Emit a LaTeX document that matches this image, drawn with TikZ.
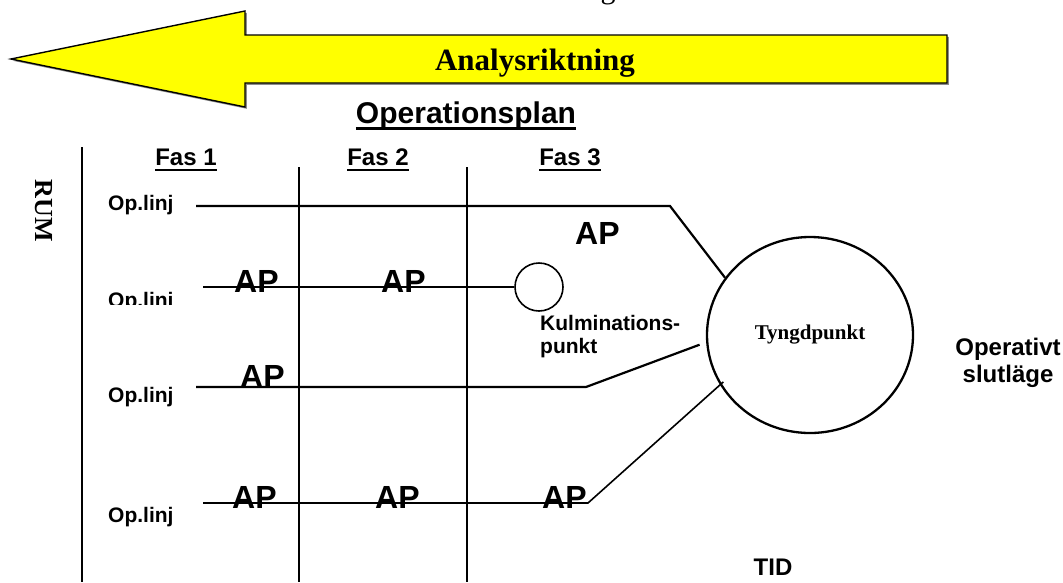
\documentclass[tikz,border=0pt]{standalone}
\usepackage{fontspec}
\setmainfont{Liberation Serif}
\setsansfont{Liberation Sans}
\usetikzlibrary{positioning, calc, shapes.geometric}
\definecolor{arrowyellow}{RGB}{255,255,0}
\definecolor{shadowgray}{RGB}{140,140,140}

\begin{document}
\begin{tikzpicture}[
  x=1pt, y=-1pt,
  axis/.style={line width=2.4pt},
  opline/.style={line width=2.2pt},
  thinline/.style={line width=1.6pt},
  uline/.style={line width=2.6pt},
  heading/.style={font=\sffamily\bfseries\fontsize{24}{28}\selectfont, inner sep=0pt, anchor=base},
  oplbl/.style={font=\sffamily\bfseries\fontsize{21}{24}\selectfont, inner sep=0pt, anchor=base west},
  aplbl/.style={font=\sffamily\bfseries\fontsize{32}{36}\selectfont, inner sep=0pt, anchor=base west},
  seriflbl/.style={font=\bfseries\fontsize{31}{36}\selectfont, inner sep=0pt, anchor=base}
]
\useasboundingbox (0,0) rectangle (1063,582);

% ---- direction arrow ----
\fill[shadowgray, shift={(1.8,1.8)}] (11,59) -- (245,11) -- (245,35) -- (947,35) -- (947,83) -- (245,83) -- (245,107) -- cycle;
\filldraw[fill=arrowyellow, draw=black, line width=1.4pt] (11,59) -- (245,11) -- (245,35) -- (947,35) -- (947,83) -- (245,83) -- (245,107) -- cycle;
\node[seriflbl] (analys) at (535,70) {Analysriktning};
\node[font=\fontsize{30}{34}\selectfont, inner sep=0pt, anchor=base] (topg) at (608,-2) {g};

% ---- titles ----
\node[heading, font=\sffamily\bfseries\fontsize{30}{34}\selectfont] (plan) at (466,123) {Operationsplan};
\draw[uline, line width=3pt] ([yshift=-5pt]plan.base west) -- ([yshift=-5pt]plan.base east);
\node[heading] (fas1) at (186,165) {Fas 1};
\node[heading] (fas2) at (378,165) {Fas 2};
\node[heading] (fas3) at (570,165) {Fas 3};
\foreach \f in {fas1,fas2,fas3}
  \draw[uline] ([yshift=-5pt]\f.base west) -- ([yshift=-5pt]\f.base east);

\node[font=\bfseries\fontsize{26}{30}\selectfont, inner sep=0pt, rotate=-90] (rum) at (44,211) {RUM};

% ---- axes ----
\draw[axis] (82,147) -- (82,582);
\draw[axis] (299,167) -- (299,582);
\draw[axis] (467,167) -- (467,582);

% ---- circles ----
\node[circle, draw, thinline, minimum size=48pt, inner sep=0pt] (kulm) at (539,287) {};
\node[ellipse, draw, line width=2.3pt, minimum width=206pt, minimum height=196pt, inner sep=0pt,
      font=\bfseries\fontsize{21}{24}\selectfont] (tyngd) at (810,335) {Tyngdpunkt};

% ---- operation lines ----
\coordinate (l1start) at (196,206);
\coordinate (l1bend)  at (670,206);
\coordinate (l2start) at (203,287);
\coordinate (l3start) at (196,387);
\coordinate (l3bend)  at (586,387);
\coordinate (l4start) at (203,503);
\coordinate (l4bend)  at (588,503);

\node[oplbl] (op1) at (108,210) {Op.linj};
\begin{scope}
  \clip (100,280) rectangle (190,304);
  \node[oplbl] (op2) at (108,307) {Op.linj};
\end{scope}
\node[oplbl] (op3) at (108,402) {Op.linj};
\node[oplbl] (op4) at (108,522) {Op.linj};

\node[aplbl] (ap1) at (575,244) {AP};
\node[aplbl] (ap21) at (234,292) {AP};
\node[aplbl] (ap22) at (381,292) {AP};
\node[aplbl] (ap3) at (240,387) {AP};
\node[aplbl] (ap41) at (232,508) {AP};
\node[aplbl] (ap42) at (375,508) {AP};
\node[aplbl] (ap43) at (542,508) {AP};

\draw[opline] (l1start) -- (l1bend) -- (tyngd.146);
\draw[thinline] (l2start) -- (kulm.west);
\draw[opline, shorten >=7pt] (l3start) -- (l3bend) -- (tyngd.184);
\draw[thinline, shorten >=-4.5pt] (l4start) -- (l4bend) -- (tyngd.209);

\node[oplbl] (kulmtxt) at (540,330) {Kulminations-};
\node[oplbl] (punkttxt) at (540,353) {punkt};

% ---- end state and time ----
\node[heading] (slut1) at (1008,355) {Operativt};
\node[heading] (slut2) at (1008,382) {slutläge};
\node[heading] (tid) at (773,575) {TID};

\end{tikzpicture}
\end{document}
